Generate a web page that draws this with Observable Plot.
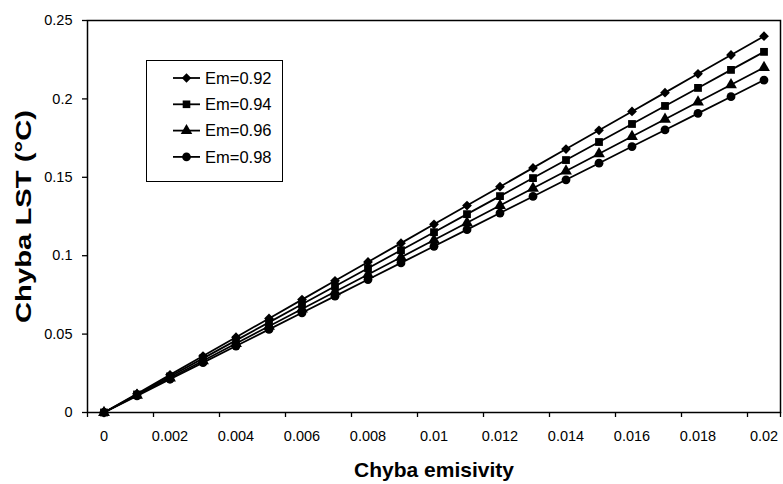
<!DOCTYPE html>
<html><head><meta charset="utf-8">
<script src="https://cdn.jsdelivr.net/npm/d3@7"></script>
<script src="https://cdn.jsdelivr.net/npm/@observablehq/plot@0.6"></script>
<style>
body{margin:0;background:#fff;}
#wrap{position:relative;width:783px;height:484px;font-family:"Liberation Sans",Arial,sans-serif;}
#legend{position:absolute;left:146px;top:60px;width:137px;height:122px;border:1.5px solid #000;background:#fff;box-sizing:border-box;}
#legend svg{display:block}
</style></head><body><div id="wrap"><div id="legend"></div></div>
<script>
const emisivity = [0,0.001,0.002,0.003,0.004,0.005,0.006,0.007,0.008,0.009,0.01,0.011,0.012,0.013,0.014,0.015,0.016,0.017,0.018,0.019,0.02];
const em092 = [0,0.012,0.024,0.036,0.048,0.060,0.072,0.084,0.096,0.108,0.120,0.132,0.144,0.156,0.168,0.180,0.192,0.204,0.216,0.228,0.240];
const em094 = [0,0.0115,0.023,0.0345,0.046,0.0575,0.069,0.0805,0.092,0.1035,0.115,0.1265,0.138,0.1495,0.161,0.1725,0.184,0.1955,0.207,0.2185,0.230];
const em096 = [0,0.011,0.022,0.033,0.044,0.055,0.066,0.077,0.088,0.099,0.110,0.121,0.132,0.143,0.154,0.165,0.176,0.187,0.198,0.209,0.220];
const em098 = [0,0.0106,0.0212,0.0318,0.0424,0.053,0.0636,0.0742,0.0848,0.0954,0.106,0.1166,0.1272,0.1378,0.1484,0.159,0.1696,0.1802,0.1908,0.2014,0.212];
const seriesNames = ["Em=0.92","Em=0.94","Em=0.96","Em=0.98"];
const seriesValues = [em092, em094, em096, em098];
const symbolNames = ["diamond2","square","triangle","circle"];
const xTickLabels = [0,0.002,0.004,0.006,0.008,0.01,0.012,0.014,0.016,0.018,0.02];
const yTickLabels = [0,0.05,0.1,0.15,0.2,0.25];
const xTitle = "Chyba emisivity";
const yTitle = "Chyba LST (°C)";

// category step (Excel-style category axis: ticks between categories)
const step = emisivity[1] - emisivity[0];
const xBoundaries = xTickLabels.map(v => v - step / 2).concat([emisivity[emisivity.length - 1] + step / 2]);

const rows = seriesNames.flatMap((s, i) => emisivity.map((x, j) => ({series: s, x, y: seriesValues[i][j]})));

const chart = Plot.plot({
  width: 783, height: 484,
  marginLeft: 87, marginRight: 3, marginTop: 20, marginBottom: 72,
  x: {domain: [emisivity[0] - step / 2, emisivity[emisivity.length - 1] + step / 2]},
  y: {domain: [0, 0.25]},
  symbol: {domain: seriesNames, range: symbolNames},
  style: {fontFamily: "Liberation Sans, Arial, sans-serif", fontSize: "14px", color: "#000", background: "#fff"},
  marks: [
    Plot.frame({stroke: "#000", strokeWidth: 1.5}),
    Plot.axisY({ticks: yTickLabels, tickSize: 5, tickPadding: 10, tickFormat: d => String(d), label: null, fontSize: 14.5, stroke: "#000", strokeWidth: 1.3}),
    Plot.axisX({ticks: xBoundaries, tickSize: 5, tickFormat: () => "", label: null, stroke: "#000", strokeWidth: 1.3}),
    Plot.axisX({ticks: xTickLabels, tickSize: 0, tickPadding: 18, tickFormat: d => String(d), label: null, fontSize: 14.5}),
    Plot.lineY(rows, {x: "x", y: "y", z: "series", stroke: "#000", strokeWidth: 1.8}),
    Plot.dot(rows, {x: "x", y: "y", symbol: "series", fill: "#000", stroke: "none", r: 4.4}),
    Plot.text([xTitle], {frameAnchor: "bottom", dy: 58, fontWeight: "bold", fontSize: 21, fill: "#000", lineAnchor: "middle"}),
    Plot.text([yTitle], {frameAnchor: "left", dx: -64, rotate: -90, textAnchor: "middle", fontWeight: "bold", fontSize: 22, fill: "#000", lineAnchor: "middle"})
  ]
});
document.getElementById("wrap").prepend(chart);

// the scanned original stretches the vertical title along its baseline
d3.select(chart).selectAll("text").filter(function() { return this.textContent === yTitle; })
  .each(function() {
    const t = this.getAttribute("transform") || "";
    this.setAttribute("transform", t + " scale(1.33,1)");
  });

// legend
const lg = d3.select("#legend").append("svg").attr("width", 134).attr("height", 119);
const symMap = {diamond2: d3.symbolDiamond2, square: d3.symbolSquare, triangle: d3.symbolTriangle, circle: d3.symbolCircle};
seriesNames.forEach((s, i) => {
  const y = 17 + i * 26.3;
  const g = lg.append("g").attr("transform", `translate(0,${y})`);
  g.append("line").attr("x1", 26).attr("x2", 53).attr("y1", 0).attr("y2", 0).attr("stroke", "#000").attr("stroke-width", 1.8);
  g.append("path").attr("d", d3.symbol(symMap[symbolNames[i]], 58)()).attr("transform", "translate(39.5,0)").attr("fill", "#000");
  g.append("text").attr("x", 58).attr("y", 0).attr("dy", "0.35em").attr("font-size", 16.5).attr("fill", "#000")
    .attr("font-family", "Liberation Sans, Arial, sans-serif").text(s);
});
</script>
</body></html>
